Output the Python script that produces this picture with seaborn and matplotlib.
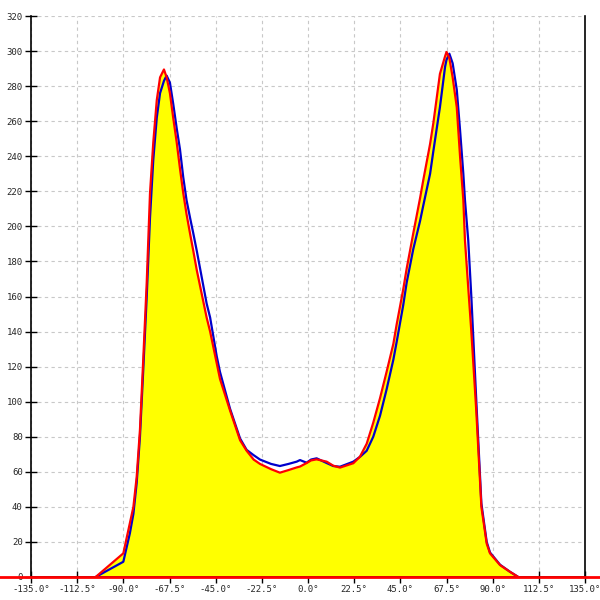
import matplotlib
matplotlib.use("Agg")
import matplotlib.pyplot as plt
import numpy as np
import pandas as pd
import seaborn as sns

# angle in degrees, counts for both series
angle = [-103.5, -90.0, -86.8, -85.1, -83.5, -81.9, -80.3, -78.6, -77.0, -75.4,
         -73.7, -72.1, -70.2, -68.9, -67.3, -65.7, -64.0, -62.4, -60.8, -59.2,
         -57.5, -55.9, -54.2, -49.4, -47.7, -44.5, -42.9, -38.0, -33.1, -29.9,
         -26.5, -23.4, -18.0, -13.7, -9.5, -5.5, -3.9, -0.7, 1.5, 4.2,
         9.1, 12.3, 15.6, 22.1, 25.3, 28.6, 31.8, 35.1, 38.3, 41.6,
         43.2, 46.4, 48.1, 51.3, 54.6, 56.2, 59.5, 61.1, 64.3, 66.8,
         67.5, 68.9, 70.5, 72.5, 74.1, 75.7, 76.5, 78.1, 79.6, 82.0,
         84.5, 87.1, 88.7, 93.6, 98.4, 102.5]
count_red = [0, 13.5, 30.8, 40, 57, 84, 124, 168, 219, 248,
             272, 285, 289.5, 285, 276, 262, 248, 233, 219, 207,
             196, 186, 175, 148, 140, 122, 113, 95, 78, 72,
             67, 64.5, 61.5, 59.5, 61, 62.5, 63, 65, 66.5, 67.1,
             65.8, 63.5, 62.4, 64.9, 68.6, 76, 88, 102, 117, 133,
             144, 164, 176, 196, 216, 226.5, 247, 259, 287, 297,
             299.5, 296, 285, 268, 240, 215, 192, 165, 140, 95,
             40, 19, 13.5, 6.8, 3, 0]
count_blue = [0, 8.7, 25, 36, 53.6, 80, 118, 160, 205, 238,
              262, 276, 283, 286, 282, 270, 256, 244, 228, 215,
              205, 196, 186, 156, 148, 126, 117, 96, 79, 72.5,
              69.5, 67, 64.5, 63.3, 64.5, 65.8, 66.7, 65.2, 67, 67.7,
              65, 63.3, 62.9, 65.8, 68.5, 72, 80, 92, 107, 124,
              134, 155, 168, 187, 203, 212, 230, 243, 268, 291,
              295, 298.5, 293, 278, 255, 230, 215, 192, 160, 101,
              42, 20, 14, 7, 3, 0]

x_ticks = np.arange(-135, 135.1, 22.5)
y_ticks = np.arange(0, 321, 20)

df = pd.DataFrame({"angle": angle, "red": count_red, "blue": count_blue})

sns.set_style("white")
plt.rcParams["font.family"] = ["DejaVu Sans Mono"]

fig = plt.figure(figsize=(6, 6), dpi=100)
ax = fig.add_axes([31 / 600, 23 / 600, 554 / 600, 561 / 600])

ax.fill_between(df["angle"], 0, df["red"], color="#ffff00", lw=0, zorder=1)
sns.lineplot(data=df, x="angle", y="blue", color="#0000cc", lw=1.6, sort=False,
             ax=ax, zorder=3)
sns.lineplot(data=df, x="angle", y="red", color="#ff0000", lw=1.6, sort=False,
             ax=ax, zorder=4)
ax.hlines(0, -151, 143, color="#ff0000", lw=2, clip_on=False, zorder=5)

ax.set_xlim(-135, 135)
ax.set_ylim(0, 320)
ax.set_xticks(x_ticks)
ax.set_xticklabels([f"{v:.1f}°" for v in x_ticks])
ax.set_yticks(y_ticks)
ax.set_yticklabels([str(v) for v in y_ticks])
ax.set_xlabel("")
ax.set_ylabel("")

ax.grid(True, color="#c8c8c8", linestyle=(0, (3, 3)), lw=0.8, zorder=0)
ax.set_axisbelow(True)
for side in ["left", "right", "bottom"]:
    ax.spines[side].set_visible(True)
    ax.spines[side].set_color("black")
    ax.spines[side].set_linewidth(1.2)
ax.spines["top"].set_visible(False)

ax.tick_params(axis="both", direction="inout", length=8, width=1, color="black",
               labelsize=6.5, pad=2, left=True, bottom=True)

fig.savefig("out.png", dpi=100)
